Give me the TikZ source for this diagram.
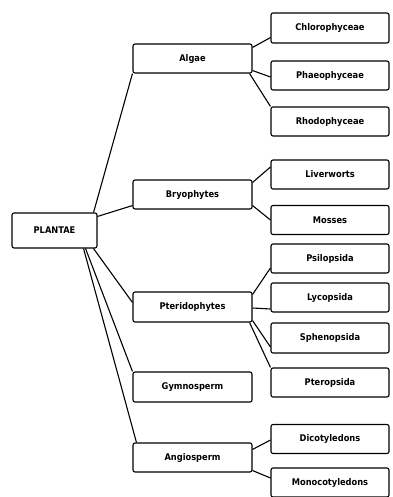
\documentclass[tikz,border=0pt]{standalone}
\usepackage{fontspec}
\setmainfont{DejaVu Sans Condensed}
\usetikzlibrary{calc}
\begin{document}
\begin{tikzpicture}[x=1pt,y=-1pt,
  box/.style={draw=black, line width=1.1pt, rounded corners=2pt, inner sep=0pt,
    font=\fontsize{9.2}{11}\selectfont\bfseries, fill=white},
  leftbox/.style={box, minimum width=85pt, minimum height=35pt},
  midbox/.style={box, minimum width=119pt, minimum height=29pt},
  rightbox/.style={box, minimum width=118pt, minimum height=29pt},
  link/.style={draw=black, line width=1.1pt}]
\useasboundingbox (0,0) rectangle (392,497);
\node[leftbox] (P) at (54.5,230.5) {PLANTAE};
\node[midbox] (A) at (192.5,58.5) {Algae};
\node[midbox] (B) at (192.5,194.5) {Bryophytes};
\node[midbox, minimum height=30pt] (T) at (192.5,307) {Pteridophytes};
\node[midbox, minimum height=30pt] (G) at (192.5,387) {Gymnosperm};
\node[midbox] (N) at (192.5,457.5) {Angiosperm};
\node[rightbox, minimum height=30pt] (c1) at (330,28) {Chlorophyceae};
\node[rightbox] (c2) at (330,75.5) {Phaeophyceae};
\node[rightbox] (c3) at (330,121.5) {Rhodophyceae};
\node[rightbox] (b1) at (330,174.5) {Liverworts};
\node[rightbox] (b2) at (330,220) {Mosses};
\node[rightbox] (t1) at (330,258.5) {Psilopsida};
\node[rightbox] (t2) at (330,297.5) {Lycopsida};
\node[rightbox, minimum height=30pt] (t3) at (330,338) {Sphenopsida};
\node[rightbox] (t4) at (330,382.5) {Pteropsida};
\node[rightbox] (n1) at (330,439) {Dicotyledons};
\node[rightbox] (n2) at (330,482.5) {Monocotyledons};
% PLANTAE links
\draw[link] ($(P.north east)+(-4,0)$) -- (A.south west);
\draw[link] ($(P.north east)+(0,4)$) -- ($(B.south west)+(0,-4)$);
\draw[link] ($(P.south east)+(-4,0)$) -- ($(T.north west)+(0,11)$);
\draw[link] ($(P.south east)+(-12,0)$) -- (G.north west);
\draw[link] ($(P.south east)+(-14,0)$) -- ($(N.north west)+(4,0)$);
% Algae
\draw[link] ($(A.north east)+(0,4)$) -- ($(c1.south west)+(0,-6)$);
\draw[link] ($(A.south east)+(0,-3)$) -- ($(c2.west)+(0,1.5)$);
\draw[link] ($(A.south east)+(-3,0)$) -- (c3.north west);
% Bryophytes
\draw[link] ($(B.north east)+(0,3)$) -- ($(b1.west)+(0,-7.5)$);
\draw[link] ($(B.south east)+(0,-4)$) -- (b2.west);
% Pteridophytes
\draw[link] ($(T.north east)+(0,3)$) -- ($(t1.west)+(0,9.5)$);
\draw[link] ($(T.east)+(0,1)$) -- ($(t2.west)+(0,11.5)$);
\draw[link] ($(T.south east)+(0,-2)$) -- ($(t3.west)+(0,9)$);
\draw[link] ($(T.south east)+(-3,0)$) -- (t4.north west);
% Angiosperm
\draw[link] ($(N.north east)+(0,7)$) -- ($(n1.west)+(0,1)$);
\draw[link] ($(N.south east)+(0,-2)$) -- ($(n2.west)+(0,-4.5)$);
\end{tikzpicture}
\end{document}
